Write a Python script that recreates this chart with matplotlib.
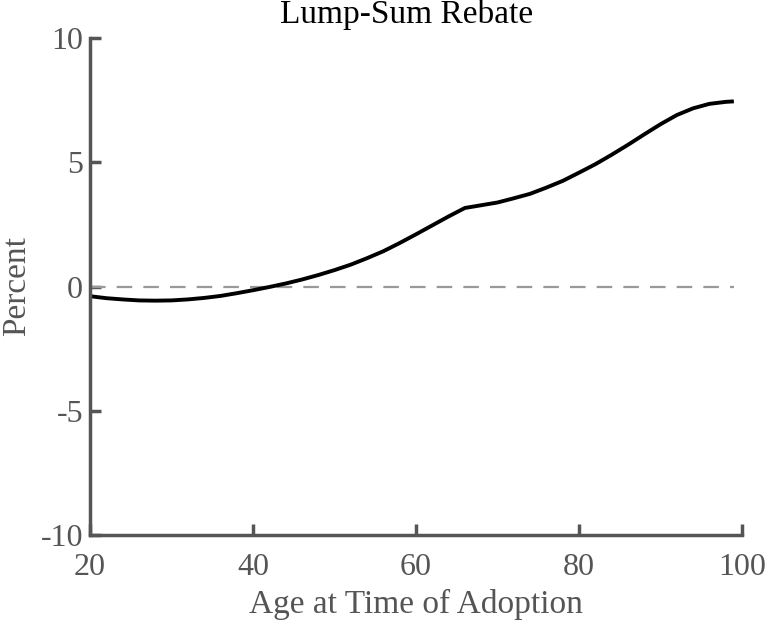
import matplotlib
matplotlib.use("Agg")
import matplotlib.pyplot as plt

age = [20, 22, 24, 26, 28, 30, 32, 34, 36, 38, 40, 42, 44, 46, 48, 50, 52, 54, 56, 58,
       60, 62, 64, 66, 68, 70, 72, 74, 76, 78, 80, 82, 84, 86, 88, 90, 92, 94, 96, 98, 99]
pct = [-0.39, -0.47, -0.52, -0.56, -0.57, -0.56, -0.52, -0.46, -0.38, -0.27, -0.15, -0.02,
       0.12, 0.28, 0.46, 0.66, 0.88, 1.14, 1.42, 1.75, 2.1, 2.46, 2.82, 3.16, 3.27, 3.38,
       3.55, 3.73, 3.98, 4.25, 4.58, 4.92, 5.3, 5.7, 6.12, 6.53, 6.9, 7.17, 7.35, 7.43, 7.45]
xticks = [20, 40, 60, 80, 100]
yticks = [-10, -5, 0, 5, 10]

plt.rcParams['font.family'] = ['Liberation Serif', 'DejaVu Serif']
gray = '#555555'

fig = plt.figure(figsize=(7.68, 6.2), dpi=100)
ax = fig.add_axes([90/768, 1-535/620, (742-90)/768, (535-38)/620])

ax.plot(age, [0]*len(age), color='#999999', lw=1.6, dashes=(7, 5))
ax.plot(age, pct, color='black', lw=2.8, solid_capstyle='butt', solid_joinstyle='round')

ax.set_xlim(20, 100)
ax.set_ylim(-10, 10)
ax.set_xticks(xticks)
ax.set_yticks(yticks)
ax.set_yticklabels([str(v) for v in yticks])
for s in ['top', 'right']:
    ax.spines[s].set_visible(False)
for s in ['left', 'bottom']:
    ax.spines[s].set_color(gray)
    ax.spines[s].set_linewidth(2.5)
ax.tick_params(direction='in', length=8, width=2.5, color=gray, labelcolor=gray, labelsize=23)
ax.tick_params(axis='x', pad=13)
ax.tick_params(axis='y', pad=5)
ax.set_title('Lump-Sum Rebate', fontsize=24, color='black', pad=11, x=0.485)
ax.set_xlabel('Age at Time of Adoption', fontsize=24, color=gray, labelpad=5)
ax.set_ylabel('Percent', fontsize=24, color=gray, labelpad=6)

fig.savefig('out.png', dpi=100)
